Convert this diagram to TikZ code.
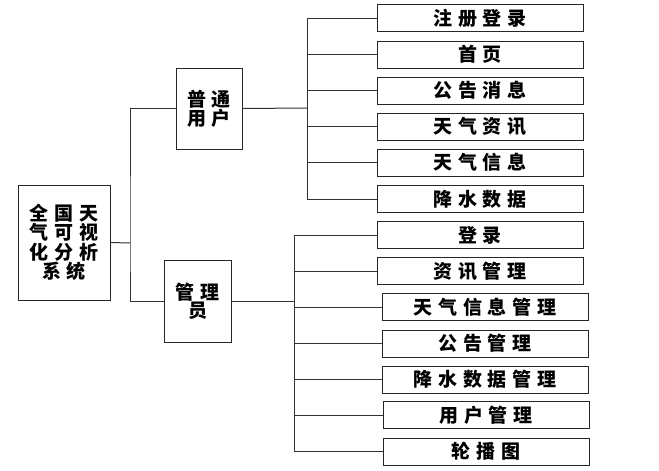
\documentclass[tikz,border=0pt]{standalone}
\usepackage{fontspec}
\newfontfamily\cjk{Noto Sans CJK SC}[LetterSpace=30]
\tikzset{
  box/.style={draw=black!85, line width=1pt, fill=white, inner sep=0pt, align=center,
    font=\cjk\bfseries\fontsize{19pt}{18pt}\selectfont},
  leaf/.style={box, minimum width=206pt, minimum height=27pt},
  conn/.style={draw=black!80, line width=1pt}
}
\begin{document}
\begin{tikzpicture}[x=1pt,y=-1pt]
\useasboundingbox (0,0) rectangle (659,471);
% root
\node[box, minimum width=92pt, minimum height=115pt] (root) at (64,242.5) {全国天\\气可视\\化分析\\系统};
\node[box, minimum width=66pt, minimum height=81pt] (u) at (209,108.5) {普通\\用户};
\node[box, minimum width=67pt, minimum height=82pt] (a) at (197.5,301) {管理\\员};
\coordinate (j1) at (130,243);
\coordinate (ju) at (307,108);
\coordinate (ja) at (294,301);
% user leaves
\node[leaf] (u1) at (480,18) {注册登录};
\node[leaf] (u2) at (480,54.5) {首页};
\node[leaf] (u3) at (480,90.5) {公告消息};
\node[leaf] (u4) at (480,126.5) {天气资讯};
\node[leaf] (u5) at (480,162.5) {天气信息};
\node[leaf] (u6) at (480,199) {降水数据};
% admin leaves
\node[leaf] (d1) at (480,235) {登录};
\node[leaf] (d2) at (480,271) {资讯管理};
\node[leaf] (d3) at (485,307) {天气信息管理};
\node[leaf] (d4) at (485,343.5) {公告管理};
\node[leaf] (d5) at (485,379.5) {降水数据管理};
\node[leaf] (d6) at (486,415) {用户管理};
\node[leaf] (d7) at (486,451.5) {轮播图};
% connectors
\draw[conn] (root.east) -- (j1);
\draw[conn] (u.west) -| (j1) |- (a.west);
\draw[conn] (u.east) -- (ju);
\draw[conn] (a.east) -- (ja);
\foreach \n in {u1,u2,u3,u4,u5,u6} \draw[conn] (ju) |- (\n.west);
\foreach \n in {d1,d2,d3,d4,d5,d6,d7} \draw[conn] (ja) |- (\n.west);
\end{tikzpicture}
\end{document}
